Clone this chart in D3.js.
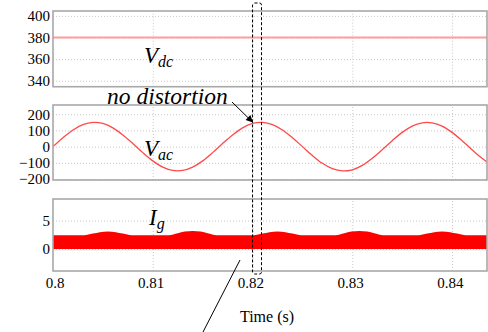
<!DOCTYPE html>
<html>
<head>
<meta charset="utf-8">
<script src="https://cdn.jsdelivr.net/npm/d3@7"></script>
<style>
  body { margin: 0; background: #fff; }
  svg text { font-family: 'Liberation Serif', 'Tinos', 'Times New Roman', Times, 'DejaVu Serif', serif; }
  .grid line { stroke: #c8c8c8; stroke-dasharray: 1,2; }
  .grid .domain { display: none; }
  .ticks text { font-size: 15px; fill: #000; }
  .ticks .domain, .ticks line { display: none; }
</style>
</head>
<body>
<div id="chart"></div>
<script>
// time range shown (s)
var timeRange = [0.8, 0.8435];
var timeTicks = [0.8, 0.81, 0.82, 0.83, 0.84];

// DC link voltage (V)
var vdcTime = [0.8, 0.81, 0.82, 0.83, 0.8435];
var vdcValue = [380, 380, 380, 380, 380];
var vdcTicks = [340, 360, 380, 400];

// AC voltage (V), read every 1 ms
var vacTime = [0.800, 0.801, 0.802, 0.803, 0.804, 0.805, 0.806, 0.807, 0.808, 0.809,
               0.810, 0.811, 0.812, 0.813, 0.814, 0.815, 0.816, 0.817, 0.818, 0.819,
               0.820, 0.821, 0.822, 0.823, 0.824, 0.825, 0.826, 0.827, 0.828, 0.829,
               0.830, 0.831, 0.832, 0.833, 0.834, 0.835, 0.836, 0.837, 0.838, 0.839,
               0.840, 0.841, 0.842, 0.843, 0.844];
var vacValue = [0, 55, 103, 136, 150, 143, 116, 72, 19, -37,
                -88, -127, -147, -147, -127, -88, -37, 19, 72, 116,
                143, 150, 136, 103, 55, 0, -55, -103, -136, -150,
                -143, -116, -72, -19, 37, 88, 127, 147, 147, 127,
                88, 37, -19, -72, -116];
var vacTicks = [-200, -100, 0, 100, 200];

// grid current (A): upper envelope of the switching band, lower edge at 0
var igTime = [0.8,
              0.8031, 0.8040, 0.8047, 0.8055, 0.8063, 0.8070, 0.8079,
              0.8116, 0.8125, 0.8132, 0.8140, 0.8148, 0.8155, 0.8164,
              0.8201, 0.8210, 0.8217, 0.8225, 0.8233, 0.8240, 0.8249,
              0.8283, 0.8292, 0.8299, 0.8307, 0.8315, 0.8322, 0.8331,
              0.8366, 0.8375, 0.8382, 0.8390, 0.8398, 0.8405, 0.8414,
              0.8435];
var igTop = [2.4,
             2.4, 2.7, 2.95, 3.05, 2.95, 2.7, 2.4,
             2.4, 2.75, 3.05, 3.15, 3.05, 2.75, 2.4,
             2.4, 2.7, 2.95, 3.05, 2.95, 2.7, 2.4,
             2.4, 2.75, 3.05, 3.15, 3.05, 2.75, 2.4,
             2.4, 2.7, 2.95, 3.05, 2.95, 2.7, 2.4,
             2.4];
var igBottom = 0;
var igTicks = [0, 5];

var width = 488, height = 332;
var left = 53, right = 487;
var serif = "'Liberation Serif', 'Tinos', 'Times New Roman', Times, 'DejaVu Serif', serif";

var svg = d3.select("#chart").append("svg")
    .attr("width", width)
    .attr("height", height)
    .style("display", "block");

svg.append("defs").append("marker")
    .attr("id", "arrow")
    .attr("viewBox", "0 0 10 10")
    .attr("refX", 10).attr("refY", 5)
    .attr("markerWidth", 9).attr("markerHeight", 7)
    .attr("markerUnits", "userSpaceOnUse")
    .attr("orient", "auto")
    .append("path")
    .attr("d", "M0,0L10,5L0,10z")
    .attr("fill", "#000");

var x = d3.scaleLinear().domain(timeRange).range([left, right]);

var y1 = d3.scaleLinear().domain([334.5, 404.5]).range([86.7, 11]);
var y2 = d3.scaleLinear().domain([-206, 257]).range([180, 105]);
var y3 = d3.scaleLinear().domain([-3.9, 8.8]).range([271, 199]);

var panels = [
    { y: y1, ticks: vdcTicks },
    { y: y2, ticks: vacTicks },
    { y: y3, ticks: igTicks }
];

panels.forEach(function(p) {
    var top = p.y.range()[1], bottom = p.y.range()[0];

    // horizontal grid
    svg.append("g")
        .attr("class", "grid")
        .attr("transform", "translate(" + left + ",0)")
        .call(d3.axisLeft(p.y).tickValues(p.ticks).tickSize(-(right - left)).tickFormat(""));

    // vertical grid
    svg.append("g")
        .attr("class", "grid")
        .attr("transform", "translate(0," + bottom + ")")
        .call(d3.axisBottom(x).tickValues(timeTicks.slice(1)).tickSize(-(bottom - top)).tickFormat(""));

    // tick labels
    svg.append("g")
        .attr("class", "ticks")
        .attr("transform", "translate(" + left + ",0)")
        .call(d3.axisLeft(p.y).tickValues(p.ticks).tickSize(0).tickPadding(3))
        .attr("font-family", serif);
});

// Vdc
svg.append("path")
    .datum(d3.zip(vdcTime, vdcValue))
    .attr("fill", "none")
    .attr("stroke", "#ff9c9c")
    .attr("stroke-width", 2)
    .attr("d", d3.line().x(function(d) { return x(d[0]); }).y(function(d) { return y1(d[1]); }));

// Vac
svg.append("clipPath").attr("id", "clip2")
    .append("rect")
    .attr("x", left).attr("y", 105)
    .attr("width", right - left).attr("height", 75);

svg.append("path")
    .datum(d3.zip(vacTime, vacValue))
    .attr("clip-path", "url(#clip2)")
    .attr("fill", "none")
    .attr("stroke", "#ff4a4a")
    .attr("stroke-width", 1.3)
    .attr("d", d3.line().curve(d3.curveCardinal)
        .x(function(d) { return x(d[0]); })
        .y(function(d) { return y2(d[1]); }));

// Ig band
svg.append("path")
    .datum(d3.zip(igTime, igTop))
    .attr("fill", "#ff0000")
    .attr("d", d3.area().curve(d3.curveMonotoneX)
        .x(function(d) { return x(d[0]); })
        .y0(y3(igBottom))
        .y1(function(d) { return y3(d[1]); }));

// panel frames
panels.forEach(function(p) {
    var top = p.y.range()[1], bottom = p.y.range()[0];
    svg.append("rect")
        .attr("x", left).attr("y", top)
        .attr("width", right - left).attr("height", bottom - top)
        .attr("fill", "none")
        .attr("stroke", "#a8a8a8")
        .attr("stroke-width", 1.6);
});

// time axis labels
svg.append("g")
    .attr("class", "ticks")
    .attr("transform", "translate(0,271)")
    .call(d3.axisBottom(x).tickValues(timeTicks).tickSize(0).tickPadding(6)
        .tickFormat(function(d) { return String(+d.toFixed(2)); }))
    .attr("font-family", serif)
    .selectAll("text")
    .attr("text-anchor", "end")
    .attr("dx", 11);

svg.append("text")
    .attr("x", 267).attr("y", 322)
    .attr("text-anchor", "middle")
    .attr("font-size", 16)
    .text("Time (s)");

// signal names
function label(xp, yp, main, sub) {
    var t = svg.append("text")
        .attr("x", xp).attr("y", yp)
        .attr("font-style", "italic")
        .attr("font-size", 23);
    t.append("tspan").text(main);
    t.append("tspan").attr("font-size", 16).attr("dy", 4).text(sub);
}
label(144, 63, "V", "dc");
label(144, 156, "V", "ac");
label(149, 225, "I", "g");

// annotation
svg.append("text")
    .attr("x", 107).attr("y", 104)
    .attr("font-style", "italic")
    .attr("font-size", 23.5)
    .text("no distortion");

svg.append("line")
    .attr("x1", 232).attr("y1", 102)
    .attr("x2", 253).attr("y2", 122.5)
    .attr("stroke", "#000")
    .attr("stroke-width", 1)
    .attr("marker-end", "url(#arrow)");

svg.append("rect")
    .attr("x", x(0.82)).attr("y", 3)
    .attr("width", x(0.8209) - x(0.82)).attr("height", 271)
    .attr("rx", 2)
    .attr("fill", "none")
    .attr("stroke", "#000")
    .attr("stroke-width", 1)
    .attr("stroke-dasharray", "3,2");

svg.append("line")
    .attr("x1", 240).attr("y1", 260)
    .attr("x2", 202).attr("y2", 334)
    .attr("stroke", "#000")
    .attr("stroke-width", 1);
</script>
</body>
</html>
